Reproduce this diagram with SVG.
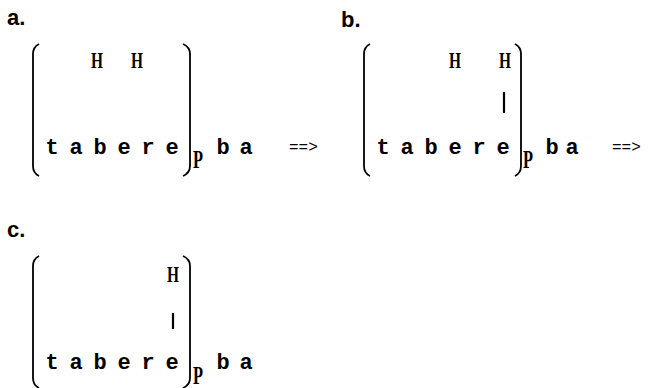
<svg xmlns="http://www.w3.org/2000/svg" width="659" height="388" viewBox="0 0 659 388">
<style>
.lbl{font-family:"Liberation Sans",Arial,sans-serif;font-size:22px;font-weight:bold;fill:#000}
.seg{font-family:"Liberation Mono","Courier New",monospace;font-size:22px;letter-spacing:-1.2px;font-weight:bold;fill:#000}
.arr{font-family:"Liberation Mono","Courier New",monospace;font-size:16px;fill:#000}
.H{font-family:"Liberation Serif","Times New Roman",serif;font-size:24px;font-weight:bold;fill:#000}
.P{font-family:"Liberation Serif","Times New Roman",serif;font-size:25px;font-weight:bold;fill:#000}
.br{fill:none;stroke:#000;stroke-width:1.8}
.bar{stroke:#000;stroke-width:2.2}
</style>
<rect width="659" height="388" fill="#fff"/>

<g id="panel-a">
  <text class="lbl" x="7" y="25">a.</text>
  <path class="br" d="M39,44 Q33,47 33,54 V166 Q33,173 39,176"/>
  <path class="br" d="M183,44 Q190,47 190,54 V166 Q190,173 183,176"/>
  <text class="H" x="91" y="68" textLength="12" lengthAdjust="spacingAndGlyphs">H</text>
  <text class="H" x="131" y="68" textLength="12" lengthAdjust="spacingAndGlyphs">H</text>
  <text class="seg" x="45.4" y="154">t a b e r e</text>
  <text class="P" x="193" y="168" textLength="10" lengthAdjust="spacingAndGlyphs">P</text>
  <text class="seg" x="216.4" y="154">b</text>
  <text class="seg" x="239.4" y="154">a</text>
  <text class="arr" x="289" y="152">==&gt;</text>
</g>

<g id="panel-b">
  <text class="lbl" x="341" y="27">b.</text>
  <path class="br" d="M370,44 Q364,47 364,54 V166 Q364,173 370,176"/>
  <path class="br" d="M515,44 Q521,47 521,54 V166 Q521,173 515,176"/>
  <text class="H" x="449" y="68" textLength="12" lengthAdjust="spacingAndGlyphs">H</text>
  <text class="H" x="499" y="68" textLength="12" lengthAdjust="spacingAndGlyphs">H</text>
  <text class="seg" x="376.4" y="154">t a b e r e</text>
  <text class="P" x="523" y="168" textLength="10" lengthAdjust="spacingAndGlyphs">P</text>
  <text class="seg" x="545.4" y="154">b</text>
  <text class="seg" x="565.4" y="154">a</text>
  <text class="arr" x="612" y="152">==&gt;</text>
</g>

<g id="panel-c">
  <text class="lbl" x="7" y="237">c.</text>
  <path class="br" d="M39,256 Q33,259 33,266 V378 Q33,385 39,388"/>
  <path class="br" d="M183,256 Q190,259 190,266 V378 Q190,385 183,388"/>
  <text class="H" x="167" y="282" textLength="12" lengthAdjust="spacingAndGlyphs">H</text>
  <text class="seg" x="45.4" y="369">t a b e r e</text>
  <text class="P" x="193" y="384" textLength="10" lengthAdjust="spacingAndGlyphs">P</text>
  <text class="seg" x="216.4" y="369">b</text>
  <text class="seg" x="239.4" y="369">a</text>
</g>

<g id="connectors">
  <line class="bar" x1="504" y1="92" x2="504" y2="113"/>
  <line class="bar" x1="173" y1="313" x2="173" y2="329"/>
</g>
</svg>
